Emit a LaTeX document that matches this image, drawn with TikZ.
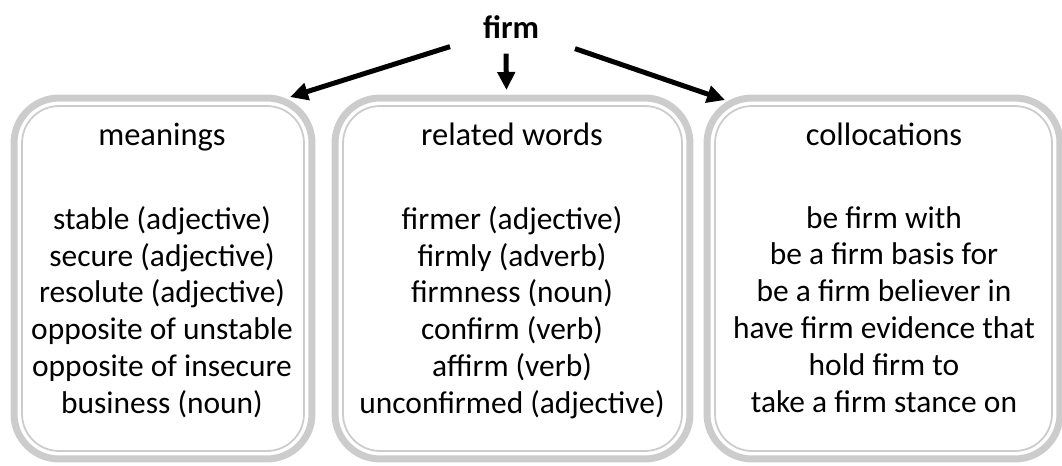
\documentclass[tikz,border=0pt]{standalone}
\usepackage{fontspec}
\setmainfont{Carlito}
\usetikzlibrary{arrows.meta}
\definecolor{boxgray}{RGB}{204,204,204}

\tikzset{
  wordbox/.style={draw=boxgray, line width=0.14cm, rounded corners=0.9cm, minimum height=7.22cm, outer sep=0pt, inner sep=0pt},
  innerline/.style={draw=boxgray, line width=0.036cm, rounded corners=0.74cm},
  boxtitle/.style={anchor=base, font=\fontsize{18.5}{21.3}\selectfont},
  boxlist/.style={anchor=north, align=center, font=\fontsize{17.9}{20.98}\selectfont},
  arr/.style={line width=0.1cm, -{Triangle[length=0.36cm, width=0.34cm]}}
}

\begin{document}
\begin{tikzpicture}[x=0.02cm, y=-0.02cm]
    \useasboundingbox (0,0) rectangle (1062,466);

    \node(mean)[wordbox, minimum width=5.96cm] at (163,278.5) {};
    \node(rel)[wordbox, minimum width=7.1cm] at (512.5,278.5) {};
    \node(coll)[wordbox, minimum width=7.06cm] at (883.5,278.5) {};

    \foreach \b in {mean, rel, coll}
    {
        \draw[innerline] ([shift={(8,8)}]\b.north west) rectangle ([shift={(-8,-8)}]\b.south east);
    }

    \node(firm)[font=\fontsize{18.5}{21}\selectfont\bfseries] at (511,27) {firm};

    \node(meantitle)[boxtitle] at (162,146) {meanings};
    \node(reltitle)[boxtitle] at (512,146) {related words};
    \node(colltitle)[boxtitle] at (884,146) {collocations};

    \node(meanlist)[boxlist] at (162,200) {stable (adjective)\\secure (adjective)\\resolute (adjective)\\opposite of unstable\\opposite of insecure\\business (noun)};
    \node(rellist)[boxlist] at (512,200) {firmer (adjective)\\firmly (adverb)\\firmness (noun)\\confirm (verb)\\affirm (verb)\\unconfirmed (adjective)};
    \node(colllist)[boxlist] at (884,200) {be firm with\\be a firm basis for\\be a firm believer in\\have firm evidence that\\hold firm to\\take a firm stance on};

    \draw[arr] ([shift={(-61,2)}]firm.south) -- ([shift={(-22,-1)}]mean.north east);
    \draw[arr] ([shift={(-5,9)}]firm.south) -- ([shift={(-6,-8)}]rel.north);
    \draw[arr] ([shift={(64,4)}]firm.south) -- ([shift={(18,2)}]coll.north west);
\end{tikzpicture}
\end{document}
